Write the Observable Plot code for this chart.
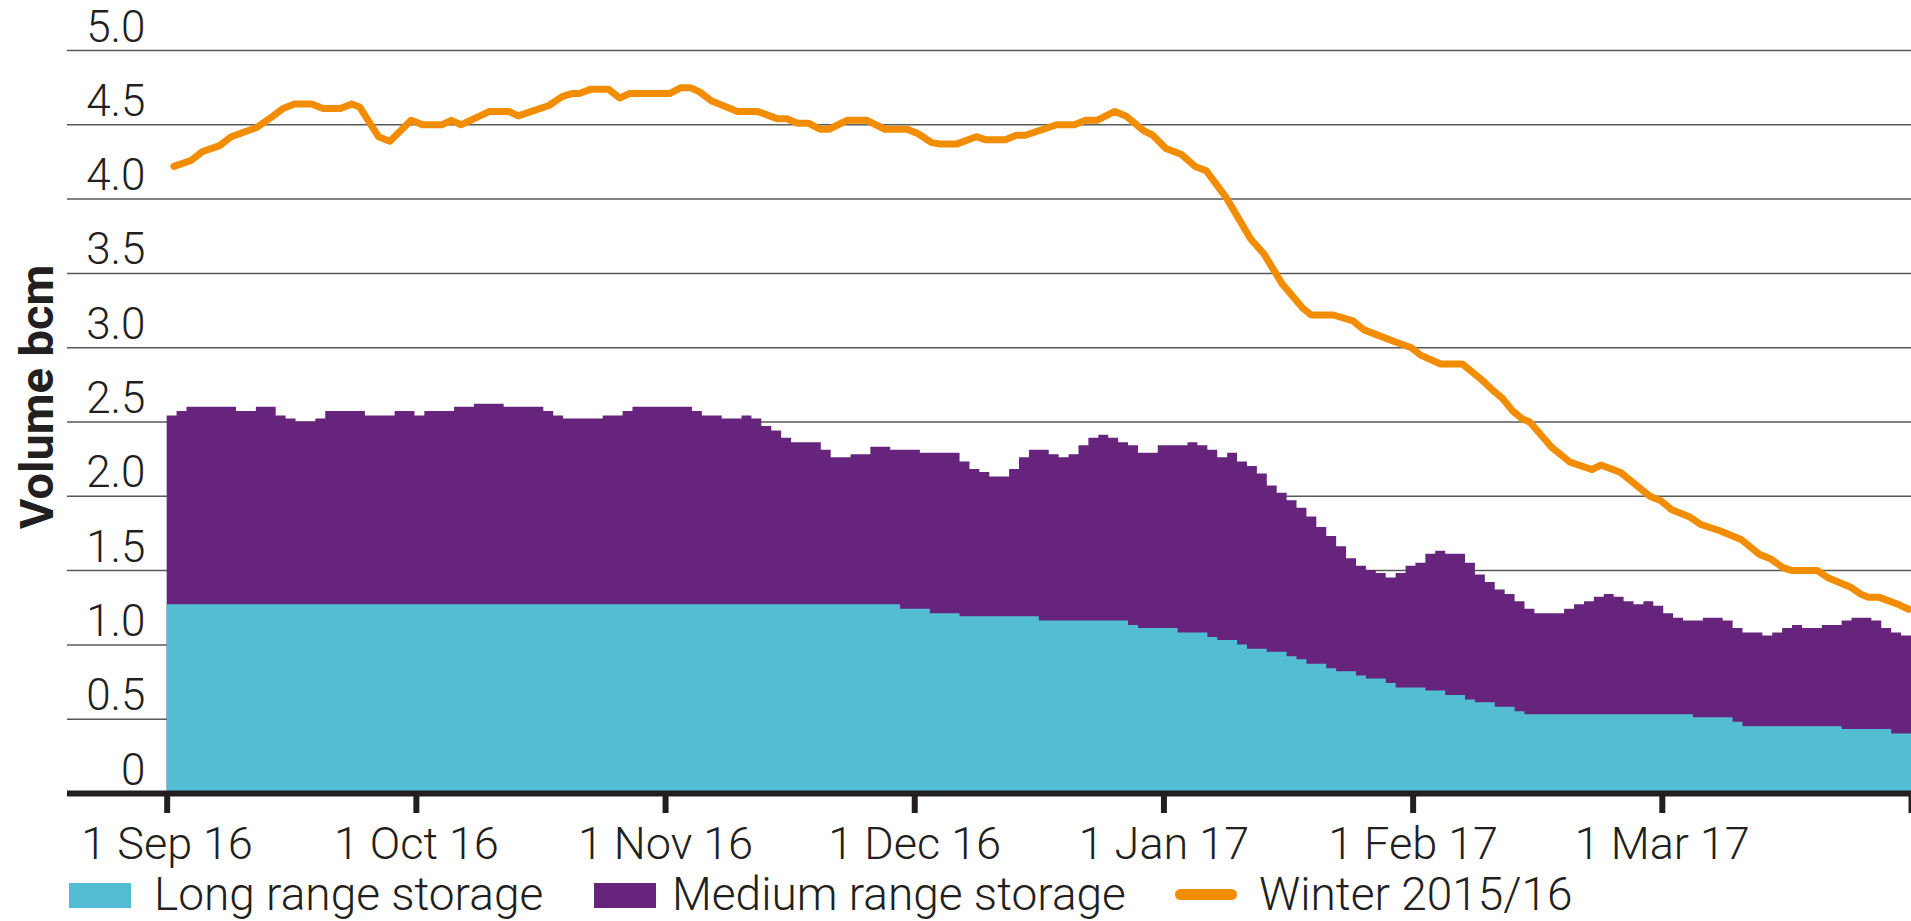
<!DOCTYPE html>
<html>
<head>
<meta charset="utf-8">
<script src="https://cdn.jsdelivr.net/npm/d3@7"></script>
<script src="https://cdn.jsdelivr.net/npm/@observablehq/plot@0.6"></script>
<style>
  body { margin: 0; background: #fff; }
  #wrap { position: relative; width: 1911px; height: 921px; overflow: hidden; background: #fff;
          font-family: Roboto, "Liberation Sans", sans-serif; font-weight: 300; color: #231f20; }
  #chart svg { display: block; overflow: visible; }
  #legend { position: absolute; left: 0; top: 870px; width: 1911px; height: 51px; }
  .sw { position: absolute; top: 13px; width: 62px; height: 25px; }
  .ln { position: absolute; top: 19px; width: 62px; height: 11px; border-radius: 6px; }
  .lt { position: absolute; top: 1px; font-size: 46px; line-height: 46px; white-space: nowrap; }
</style>
</head>
<body>
<div id="wrap">
  <div id="chart"></div>
  <div id="legend"></div>
</div>
<script>
// ---- Data ----
const xTickLabels = ["1 Sep 16", "1 Oct 16", "1 Nov 16", "1 Dec 16", "1 Jan 17", "1 Feb 17", "1 Mar 17", ""];
const yTicks = [0, 0.5, 1, 1.5, 2, 2.5, 3, 3.5, 4, 4.5, 5];
const yTickLabels = ["0", "0.5", "1.0", "1.5", "2.0", "2.5", "3.0", "3.5", "4.0", "4.5", "5.0"];
const seriesNames = ["Long range storage", "Medium range storage", "Winter 2015/16"];

// Long range storage (bcm), one value per bar, 1 Sep 16 -> end Mar 17
const longRange = [
  1.27,1.27,1.27,1.27,1.27,1.27,1.27,1.27,1.27,1.27,
  1.27,1.27,1.27,1.27,1.27,1.27,1.27,1.27,1.27,1.27,
  1.27,1.27,1.27,1.27,1.27,1.27,1.27,1.27,1.27,1.27,
  1.27,1.27,1.27,1.27,1.27,1.27,1.27,1.27,1.27,1.27,
  1.27,1.27,1.27,1.27,1.27,1.27,1.27,1.27,1.27,1.27,
  1.27,1.27,1.27,1.27,1.27,1.27,1.27,1.27,1.27,1.27,
  1.27,1.27,1.27,1.27,1.27,1.27,1.27,1.27,1.27,1.27,
  1.27,1.27,1.27,1.27,1.24,1.24,1.24,1.21,1.21,1.21,
  1.19,1.19,1.19,1.19,1.19,1.19,1.19,1.19,1.16,1.16,
  1.16,1.16,1.16,1.16,1.16,1.16,1.16,1.13,1.11,1.11,
  1.11,1.11,1.08,1.08,1.08,1.05,1.03,1.03,1.00,0.97,
  0.97,0.95,0.95,0.92,0.90,0.87,0.87,0.84,0.82,0.82,
  0.79,0.77,0.77,0.74,0.71,0.71,0.71,0.69,0.69,0.66,
  0.66,0.63,0.61,0.61,0.58,0.58,0.55,0.53,0.53,0.53,
  0.53,0.53,0.53,0.53,0.53,0.53,0.53,0.53,0.53,0.53,
  0.53,0.53,0.53,0.53,0.51,0.51,0.51,0.51,0.48,0.45,
  0.45,0.45,0.45,0.45,0.45,0.45,0.45,0.45,0.45,0.43,
  0.43,0.43,0.43,0.43,0.40,0.40
];

// Medium range storage (bcm), one value per bar
const mediumRange = [
  1.27,1.30,1.33,1.33,1.33,1.33,1.33,1.30,1.30,1.33,
  1.33,1.27,1.25,1.23,1.23,1.25,1.30,1.30,1.30,1.30,
  1.27,1.27,1.27,1.30,1.30,1.27,1.30,1.30,1.30,1.33,
  1.33,1.35,1.35,1.35,1.33,1.33,1.33,1.33,1.30,1.27,
  1.25,1.25,1.25,1.25,1.27,1.27,1.30,1.33,1.33,1.33,
  1.33,1.33,1.33,1.30,1.27,1.27,1.25,1.25,1.27,1.25,
  1.20,1.17,1.12,1.09,1.09,1.09,1.04,0.99,0.99,1.01,
  1.01,1.06,1.06,1.04,1.07,1.07,1.05,1.08,1.08,1.08,
  1.04,0.99,0.97,0.94,0.94,0.99,1.07,1.12,1.15,1.12,
  1.10,1.12,1.18,1.23,1.25,1.23,1.20,1.21,1.18,1.18,
  1.23,1.23,1.26,1.28,1.26,1.26,1.23,1.26,1.23,1.23,
  1.18,1.12,1.07,1.05,1.02,0.99,0.92,0.89,0.84,0.76,
  0.74,0.73,0.71,0.71,0.77,0.82,0.84,0.92,0.94,0.95,
  0.95,0.92,0.86,0.81,0.79,0.76,0.74,0.71,0.68,0.68,
  0.68,0.71,0.74,0.76,0.79,0.81,0.79,0.76,0.74,0.76,
  0.73,0.68,0.65,0.63,0.65,0.67,0.67,0.65,0.63,0.63,
  0.63,0.61,0.63,0.66,0.68,0.66,0.66,0.68,0.68,0.73,
  0.75,0.75,0.73,0.68,0.68,0.66
];

// Winter 2015/16 total storage: position in months after 1 Sep, and volume (bcm)
const winterX = [
  0.027,0.096,0.142,0.211,0.257,0.357,0.426,0.465,0.511,0.580,
  0.626,0.695,0.741,0.772,0.848,0.894,0.979,1.025,1.102,1.140,
  1.179,1.294,1.371,1.409,1.532,1.585,1.624,1.654,1.701,1.770,
  1.816,1.854,2.016,2.062,2.100,2.138,2.185,2.289,2.369,2.450,
  2.486,2.530,2.575,2.620,2.656,2.728,2.808,2.880,2.970,3.014,
  3.068,3.104,3.167,3.247,3.283,3.364,3.408,3.444,3.516,3.570,
  3.641,3.686,3.731,3.803,3.847,3.919,3.955,4.008,4.071,4.125,
  4.170,4.250,4.349,4.402,4.474,4.555,4.591,4.680,4.759,4.803,
  4.927,4.993,5.030,5.110,5.198,5.278,5.322,5.358,5.402,5.439,
  5.468,5.556,5.629,5.717,5.753,5.833,5.950,5.994,6.038,6.111,
  6.155,6.228,6.316,6.389,6.433,6.484,6.521,6.623,6.667,6.754,
  6.798,6.827,6.871,6.951,6.988
];
const winterY = [
  4.22,4.26,4.32,4.36,4.42,4.48,4.56,4.61,4.64,4.64,
  4.61,4.61,4.64,4.62,4.42,4.39,4.53,4.50,4.50,4.53,
  4.50,4.59,4.59,4.56,4.63,4.69,4.71,4.71,4.74,4.74,
  4.68,4.71,4.71,4.75,4.75,4.72,4.66,4.59,4.59,4.54,
  4.54,4.51,4.51,4.47,4.47,4.53,4.53,4.47,4.47,4.44,
  4.38,4.37,4.37,4.42,4.40,4.40,4.43,4.43,4.47,4.50,
  4.50,4.53,4.53,4.59,4.56,4.46,4.43,4.34,4.30,4.22,
  4.19,4.01,3.73,3.63,3.43,3.27,3.22,3.22,3.18,3.12,
  3.04,3.00,2.95,2.89,2.89,2.78,2.71,2.66,2.57,2.52,
  2.50,2.33,2.23,2.18,2.21,2.16,2.00,1.97,1.91,1.86,
  1.81,1.77,1.71,1.61,1.58,1.52,1.50,1.50,1.45,1.39,
  1.34,1.32,1.32,1.27,1.24
];

// ---- Styles ----
const colors = { long: "#53bed3", medium: "#67247c", winter: "#f28d00" };
const ink = "#231f20";

// ---- Tables built from the arrays ----
const months = xTickLabels.length - 1;
const N = longRange.length;
const step = months / N;
const stackTable = longRange.map((v, i) => ({ x: i * step, long: v, total: v + mediumRange[i] }));
stackTable.push({ x: months, long: longRange[N - 1], total: longRange[N - 1] + mediumRange[N - 1] });
const winter = winterX.map((x, i) => ({ x, y: winterY[i] }));

const chart = Plot.plot({
  width: 1911,
  height: 870,
  marginTop: 50,
  marginBottom: 77,
  marginLeft: 67,
  marginRight: 0,
  style: `font-family: Roboto, 'Liberation Sans', sans-serif; font-weight: 300; color: ${ink}; background: white; overflow: visible;`,
  x: { type: "linear", domain: [-0.4, months], label: null },
  y: { domain: [0, 5], label: null },
  marks: [
    Plot.ruleY(yTicks.filter(d => d > 0), { stroke: "#58595b", strokeWidth: 1.5 }),
    Plot.areaY(stackTable, { x: "x", y1: 0, y2: "total", fill: colors.medium, curve: "step-after" }),
    Plot.areaY(stackTable, { x: "x", y1: 0, y2: "long", fill: colors.long, curve: "step-after" }),
    Plot.line(winter, { x: "x", y: "y", stroke: colors.winter, strokeWidth: 7, strokeLinejoin: "round", strokeLinecap: "round" }),
    Plot.ruleY([0], { stroke: ink, strokeWidth: 6 }),
    Plot.axisX({
      ticks: d3.range(months + 1),
      tickFormat: d => xTickLabels[d],
      tickSize: 20, tickPadding: 14, strokeWidth: 6,
      fontSize: 45, color: ink, label: null
    }),
    Plot.axisY({
      ticks: yTicks,
      tickFormat: d => yTickLabels[yTicks.indexOf(d)],
      anchor: "left", tickSize: 0, tickPadding: 0,
      dx: 78, dy: -9, lineAnchor: "bottom", textAnchor: "end",
      fontSize: 44, color: ink, label: null
    }),
    Plot.text(["Volume bcm"], {
      frameAnchor: "left", rotate: -90, dx: -30, dy: -25,
      textAnchor: "middle", lineAnchor: "middle",
      fontSize: 47, fontWeight: "bold", fill: ink
    })
  ]
});
document.getElementById("chart").appendChild(chart);

// ---- Legend ----
const legend = document.getElementById("legend");
legend.innerHTML = `
  <div class="sw" style="left:69px;background:${colors.long}"></div>
  <div class="lt" style="left:154px">${seriesNames[0]}</div>
  <div class="sw" style="left:594px;background:${colors.medium}"></div>
  <div class="lt" style="left:672px">${seriesNames[1]}</div>
  <div class="ln" style="left:1175px;background:${colors.winter}"></div>
  <div class="lt" style="left:1259px">${seriesNames[2]}</div>
`;
</script>
</body>
</html>
